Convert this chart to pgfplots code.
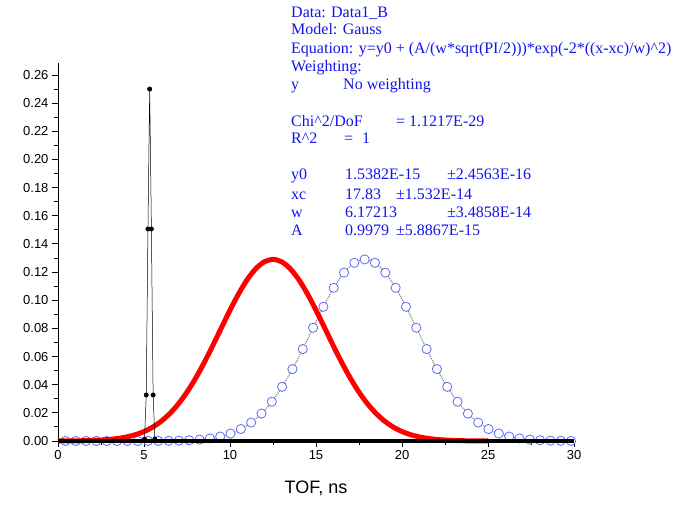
\documentclass[border=0pt]{standalone}
\usepackage{pgfplots}
\pgfplotsset{compat=1.18}
\usepackage{fontspec}
\setmainfont{Liberation Sans}
\newfontfamily\timesfont{Liberation Serif}
\definecolor{circblue}{RGB}{95,105,250}
\definecolor{txtblue}{RGB}{20,20,235}
\begin{document}
\begin{tikzpicture}[x=1pt,y=1pt]
\begin{axis}[
  name=ax, scale only axis,
  width=516pt, height=378pt,
  xmin=0, xmax=30, ymin=0, ymax=0.2685,
  axis x line*=bottom, axis y line*=left,
  axis line style={-, line width=0.9pt},
  xtick={0,5,10,15,20,25,30}, minor x tick num=1,
  ytick={0,0.02,0.04,0.06,0.08,0.10,0.12,0.14,0.16,0.18,0.20,0.22,0.24,0.26},
  minor y tick num=1,
  tick align=outside, major tick length=6pt, minor tick length=3.5pt,
  every tick/.style={black, line width=0.9pt},
  ticklabel style={font=\fontsize{13}{15}\selectfont},
  yticklabel style={/pgf/number format/.cd, fixed, fixed zerofill, precision=2},
  /pgf/number format/assume math mode=true,
  xlabel={TOF, ns}, xlabel style={font=\fontsize{18}{20}\selectfont, yshift=-14pt},
  clip=false, clip mode=individual,
]
% fit line (grey)
\addplot[gray, line width=1.1pt, densely dotted, smooth] coordinates {
(0.43,0) (1.03,0) (1.63,0) (2.23,0) (2.83,0) (3.43,0) (4.03,0) (4.63,0) (5.23,0.00003)
(5.83,0.00007) (6.43,0.00014) (7.03,0.00028) (7.63,0.00055) (8.23,0.00102) (8.83,0.00183)
(9.43,0.00317) (10.03,0.00529) (10.63,0.00848) (11.23,0.01310) (11.83,0.01948) (12.43,0.02791)
(13.03,0.03848) (13.63,0.05109) (14.23,0.06532) (14.83,0.08042) (15.43,0.09533) (16.03,0.10882)
(16.63,0.11961) (17.23,0.12659) (17.83,0.12900) (18.43,0.12659) (19.03,0.11961) (19.63,0.10882)
(20.23,0.09533) (20.83,0.08042) (21.43,0.06532) (22.03,0.05109) (22.63,0.03848) (23.23,0.02791)
(23.83,0.01948) (24.43,0.01310) (25.03,0.00848) (25.63,0.00529) (26.23,0.00317) (26.83,0.00183)
(27.43,0.00102) (28.03,0.00055) (28.63,0.00028) (29.23,0.00014) (29.83,0.00007)};
% blue data (open circles)
\addplot[circblue, only marks, mark=*, mark size=4.6pt, mark options={fill=white, draw=circblue, line width=0.8pt}] coordinates {
(0.43,0) (1.03,0) (1.63,0) (2.23,0) (2.83,0) (3.43,0) (4.03,0) (4.63,0) (5.23,0.00003)
(5.83,0.00007) (6.43,0.00014) (7.03,0.00028) (7.63,0.00055) (8.23,0.00102) (8.83,0.00183)
(9.43,0.00317) (10.03,0.00529) (10.63,0.00848) (11.23,0.01310) (11.83,0.01948) (12.43,0.02791)
(13.03,0.03848) (13.63,0.05109) (14.23,0.06532) (14.83,0.08042) (15.43,0.09533) (16.03,0.10882)
(16.63,0.11961) (17.23,0.12659) (17.83,0.12900) (18.43,0.12659) (19.03,0.11961) (19.63,0.10882)
(20.23,0.09533) (20.83,0.08042) (21.43,0.06532) (22.03,0.05109) (22.63,0.03848) (23.23,0.02791)
(23.83,0.01948) (24.43,0.01310) (25.03,0.00848) (25.63,0.00529) (26.23,0.00317) (26.83,0.00183)
(27.43,0.00102) (28.03,0.00055) (28.63,0.00028) (29.23,0.00014) (29.83,0.00007)};
% red curve
\addplot[red, line width=5pt, smooth] coordinates {
(0,0.00004) (0.5,0.00007) (1,0.00012) (1.5,0.00022) (2,0.00039) (2.5,0.00068) (3,0.00113)
(3.5,0.00183) (4,0.00291) (4.5,0.00448) (5,0.00673) (5.5,0.00984) (6,0.01404) (6.5,0.01948)
(7,0.02635) (7.5,0.03472) (8,0.04455) (8.5,0.05569) (9,0.06781) (9.5,0.08042) (10,0.09291)
(10.5,0.10456) (11,0.11463) (11.5,0.12240) (12,0.12732) (12.5,0.12900) (13,0.12732)
(13.5,0.12240) (14,0.11463) (14.5,0.10456) (15,0.09291) (15.5,0.08042) (16,0.06781)
(16.5,0.05569) (17,0.04455) (17.5,0.03472) (18,0.02635) (18.5,0.01948) (19,0.01404)
(19.5,0.00984) (20,0.00673) (20.5,0.00448) (21,0.00291) (21.5,0.00183) (22,0.00113)
(22.5,0.00068) (23,0.00039) (23.5,0.00022) (24,0.00012) (24.5,0.00007) (25,0.00004)};
% black baseline data
\addplot[black, line width=3.5pt] coordinates {(0,0) (30,0)};
% black spike
\addplot[black, line width=0.5pt, mark=*, mark size=2.2pt] coordinates {
(5.03,0.0014) (5.13,0.0327) (5.23,0.1506) (5.33,0.2500) (5.43,0.1506) (5.53,0.0327) (5.63,0.0014)};
\end{axis}
\pgfresetboundingbox
\begin{scope}[shift={(ax.south west)}]
\path[use as bounding box] (-58,-63) rectangle (616,441);
\begin{scope}[every node/.style={anchor=base west, inner sep=0pt, text=txtblue,
  font=\timesfont\fontsize{16}{18}\selectfont}]
\node at (233,423.5) {Data: Data1\_B};
\node at (233,406) {Model: Gauss};
\node at (233,387) {Equation: y=y0 + (A/(w*sqrt(PI/2)))*exp(-2*((x-xc)/w)\textasciicircum2)};
\node at (233,369) {Weighting:};
\node at (233,351) {y};
\node at (285,351) {No weighting};
\node at (233,314) {Chi\textasciicircum2/DoF};
\node at (338,314) {= 1.1217E-29};
\node at (233,297) {R\textasciicircum2};
\node at (286,297) {=};
\node at (304,297) {1};
\node at (233,261) {y0};
\node at (287,261) {1.5382E-15};
\node at (389,261) {±2.4563E-16};
\node at (233,242) {xc};
\node at (287,242) {17.83};
\node at (338,242) {±1.532E-14};
\node at (233,224) {w};
\node at (287,224) {6.17213};
\node at (389,224) {±3.4858E-14};
\node at (233,206) {A};
\node at (287,206) {0.9979};
\node at (338,206) {±5.8867E-15};
\end{scope}
\end{scope}
\end{tikzpicture}
\end{document}
